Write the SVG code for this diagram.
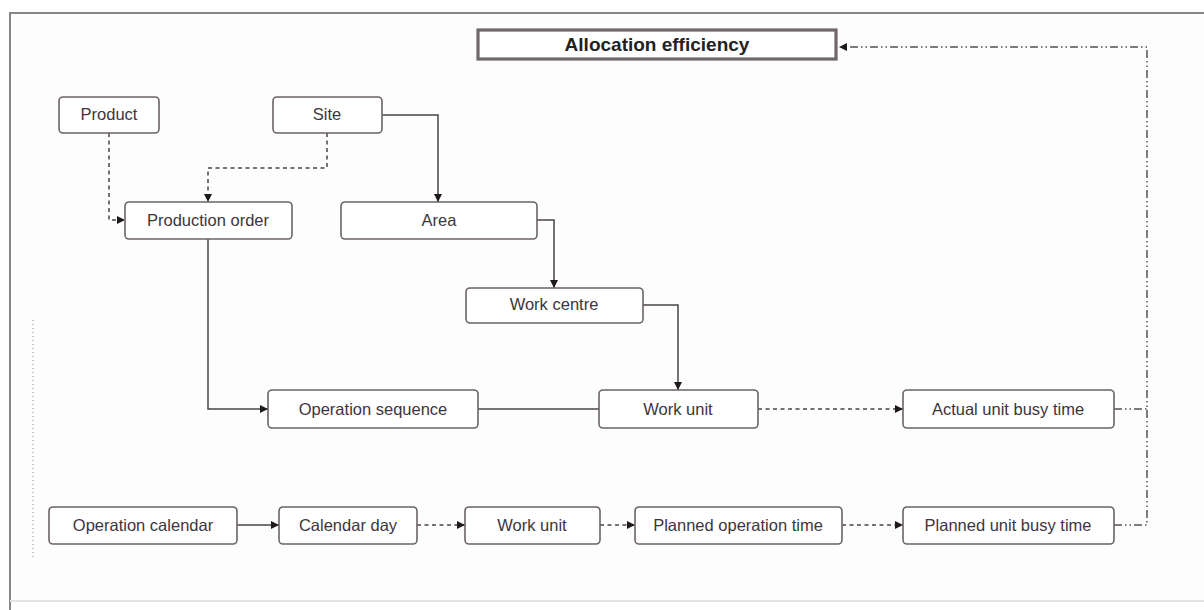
<svg xmlns="http://www.w3.org/2000/svg" width="1204" height="610" viewBox="0 0 1204 610">
  <defs>
    <marker id="arrow" viewBox="0 0 10 10" refX="10" refY="5" markerWidth="8" markerHeight="8" markerUnits="userSpaceOnUse" orient="auto">
      <path d="M0,0 L10,5 L0,10 Z" fill="#1e1a1a"/>
    </marker>
    <style>
      .box { fill: #ffffff; stroke: #6b6463; stroke-width: 1.6; }
      .title { fill: #ffffff; stroke: #6e6866; stroke-width: 3.2; }
      .label { font-family: "Liberation Sans", Arial, sans-serif; font-size: 16.5px; fill: #3d3540; text-anchor: middle; }
      .tlabel { font-family: "Liberation Sans", Arial, sans-serif; font-size: 19px; font-weight: bold; fill: #222222; text-anchor: middle; }
      .solid { fill: none; stroke: #4a4444; stroke-width: 1.5; }
      .dash { fill: none; stroke: #4a4444; stroke-width: 1.5; stroke-dasharray: 4 3.5; }
      .dashdot { fill: none; stroke: #55504f; stroke-width: 1.5; stroke-dasharray: 8 3 1.5 3 1.5 3; }
    </style>
  </defs>

  <!-- page background and frame -->
  <rect x="0" y="0" width="1204" height="610" fill="#ffffff"/>
  <rect x="10" y="13" width="1200" height="588" fill="#fdfdfd"/>
  <path d="M10,610 V13 H1204" fill="none" stroke="#8a8583" stroke-width="2"/>
  <line x1="10" y1="601" x2="1204" y2="601" stroke="#e4e2e2" stroke-width="2"/>
  <line x1="33" y1="320" x2="33" y2="558" stroke="#8c8c8c" stroke-width="1" stroke-dasharray="1 3"/>

  <!-- connectors -->
  <g id="connectors">
    <path class="dash" d="M109,133 V220 H125" marker-end="url(#arrow)"/>
    <path class="dash" d="M327,133 V168 H208 V202" marker-end="url(#arrow)"/>
    <path class="solid" d="M382,115 H438 V202" marker-end="url(#arrow)"/>
    <path class="solid" d="M537,220 H554 V288" marker-end="url(#arrow)"/>
    <path class="solid" d="M643,305 H678 V390" marker-end="url(#arrow)"/>
    <path class="solid" d="M208,239 V409 H268" marker-end="url(#arrow)"/>
    <path class="solid" d="M478,409 H599"/>
    <path class="dash" d="M758,409 H903" marker-end="url(#arrow)"/>
    <path class="solid" d="M237,525 H279" marker-end="url(#arrow)"/>
    <path class="dash" d="M417,525 H465" marker-end="url(#arrow)"/>
    <path class="dash" d="M600,525 H635" marker-end="url(#arrow)"/>
    <path class="dash" d="M842,525 H903" marker-end="url(#arrow)"/>
    <path class="dashdot" d="M1114,409 H1147"/>
    <path class="dashdot" d="M1114,525 H1147 V47 H839" marker-end="url(#arrow)"/>
  </g>

  <!-- nodes -->
  <g id="allocation-efficiency">
    <rect class="title" x="478" y="30" width="358" height="29"/>
    <text class="tlabel" x="657" y="51">Allocation efficiency</text>
  </g>
  <g id="product">
    <rect class="box" x="59" y="97" width="100" height="36" rx="4"/>
    <text class="label" x="109" y="120">Product</text>
  </g>
  <g id="site">
    <rect class="box" x="273" y="97" width="109" height="36" rx="4"/>
    <text class="label" x="327" y="120">Site</text>
  </g>
  <g id="production-order">
    <rect class="box" x="125" y="202" width="167" height="37" rx="4"/>
    <text class="label" x="208" y="226">Production order</text>
  </g>
  <g id="area">
    <rect class="box" x="341" y="202" width="196" height="37" rx="4"/>
    <text class="label" x="439" y="226">Area</text>
  </g>
  <g id="work-centre">
    <rect class="box" x="466" y="288" width="177" height="35" rx="4"/>
    <text class="label" x="554" y="310">Work centre</text>
  </g>
  <g id="operation-sequence">
    <rect class="box" x="268" y="390" width="210" height="38" rx="4"/>
    <text class="label" x="373" y="415">Operation sequence</text>
  </g>
  <g id="work-unit-actual">
    <rect class="box" x="599" y="390" width="159" height="38" rx="4"/>
    <text class="label" x="678" y="415">Work unit</text>
  </g>
  <g id="actual-unit-busy-time">
    <rect class="box" x="903" y="390" width="211" height="38" rx="4"/>
    <text class="label" x="1008" y="415">Actual unit busy time</text>
  </g>
  <g id="operation-calendar">
    <rect class="box" x="49" y="507" width="188" height="37" rx="4"/>
    <text class="label" x="143" y="531">Operation calendar</text>
  </g>
  <g id="calendar-day">
    <rect class="box" x="279" y="507" width="138" height="37" rx="4"/>
    <text class="label" x="348" y="531">Calendar day</text>
  </g>
  <g id="work-unit-planned">
    <rect class="box" x="465" y="507" width="135" height="37" rx="4"/>
    <text class="label" x="532" y="531">Work unit</text>
  </g>
  <g id="planned-operation-time">
    <rect class="box" x="635" y="507" width="207" height="37" rx="4"/>
    <text class="label" x="738" y="531">Planned operation time</text>
  </g>
  <g id="planned-unit-busy-time">
    <rect class="box" x="903" y="507" width="211" height="37" rx="4"/>
    <text class="label" x="1008" y="531">Planned unit busy time</text>
  </g>
</svg>
